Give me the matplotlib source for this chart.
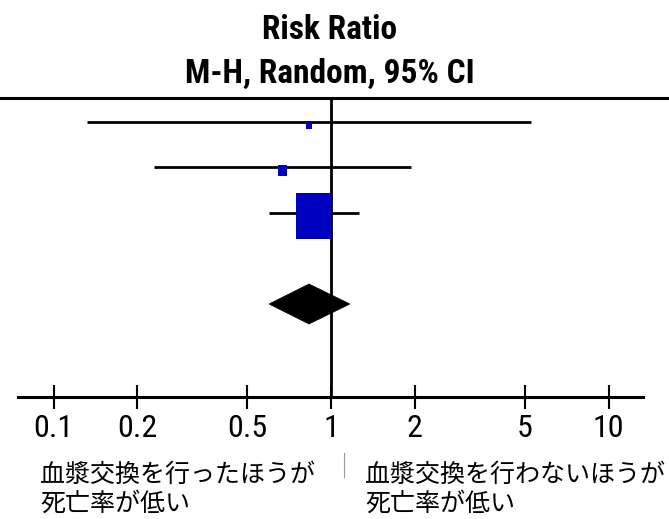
import numpy as np
import matplotlib
matplotlib.use("Agg")
import matplotlib.pyplot as plt
from matplotlib import font_manager
from matplotlib.patches import Rectangle, Polygon
from matplotlib.lines import Line2D

# ---- data ----
study_rr = [0.83, 0.67, 0.865]
study_lo = [0.132, 0.230, 0.598]
study_hi = [5.26, 1.94, 1.26]
study_weight = [2.7, 6.0, 91.3]
pooled_rr = 0.833
pooled_lo = 0.598
pooled_hi = 1.17
tick_values = [0.1, 0.2, 0.5, 1, 2, 5, 10]
tick_labels = ["0.1", "0.2", "0.5", "1", "2", "5", "10"]
title_lines = ["Risk Ratio", "M-H, Random, 95% CI"]
left_label = "血漿交換を行ったほうが\n死亡率が低い"
right_label = "血漿交換を行わないほうが\n死亡率が低い"

# pick a narrow latin font if one exists
fl = font_manager.fontManager.ttflist
names = {f.name for f in fl}
narrow_family, narrow_stretch = "Liberation Sans", "normal"
if "Liberation Sans Narrow" in names:
    narrow_family = "Liberation Sans Narrow"
elif "Roboto Condensed" in names:
    narrow_family = "Roboto Condensed"
elif any(f.name == "DejaVu Sans" and str(f.stretch) in ("condensed", "semi-condensed")
         for f in fl):
    narrow_family, narrow_stretch = "DejaVu Sans", "condensed"
elif "Liberation Sans" not in names:
    narrow_family = "DejaVu Sans"
cjk = ["Noto Sans CJK JP", "DejaVu Sans"]

W, H = 669, 519
fig = plt.figure(figsize=(W / 100, H / 100), dpi=100)

# pixel geometry
ax_left_px, ax_right_px = 18, 643
ax_top_px, ax_bot_px = 98, 397
ax = fig.add_axes([ax_left_px / W, 1 - ax_bot_px / H,
                   (ax_right_px - ax_left_px) / W, (ax_bot_px - ax_top_px) / H])

px_per_decade = 277.5
one_px = 331
xmin = 10 ** ((ax_left_px - one_px) / px_per_decade)
xmax = 10 ** ((ax_right_px - one_px) / px_per_decade)
ax.set_xscale("log")
ax.set_xlim(xmin, xmax)

row0_px, row_step = 76.5, 45.5
ylo = (ax_bot_px - row0_px) / row_step
yhi = (ax_top_px - row0_px) / row_step
ax.set_ylim(ylo, yhi)

rows = [1, 2, 3]
pooled_row = 5
blue = "#0000C0"

for r, rr, lo, hi, w in zip(rows, study_rr, study_lo, study_hi, study_weight):
    ax.plot([lo, hi], [r, r], color="black", lw=2.0, solid_capstyle="butt", zorder=2)
    side_px = 3.66 * np.sqrt(w)
    half_dec = side_px / 2 / px_per_decade
    hgt = side_px * 1.31 / row_step
    cy = r + 3 / row_step
    x0 = 10 ** (np.log10(rr) - half_dec)
    x1 = 10 ** (np.log10(rr) + half_dec)
    ax.add_patch(Rectangle((x0, cy - hgt / 2), x1 - x0, hgt, facecolor=blue,
                           edgecolor="none", zorder=3))

dh = 20 / row_step
ax.add_patch(Polygon([[pooled_lo, pooled_row], [pooled_rr, pooled_row - dh],
                      [pooled_hi, pooled_row], [pooled_rr, pooled_row + dh]],
                     closed=True, facecolor="black", edgecolor="black", lw=0.5, zorder=3))

ax.axvline(1, color="black", lw=2.0, zorder=1)

for s in ["top", "left", "right"]:
    ax.spines[s].set_visible(False)
ax.spines["bottom"].set_linewidth(2.2)
ax.set_yticks([])
ax.set_xticks(tick_values)
ax.set_xticklabels(tick_labels)
ax.xaxis.set_minor_locator(matplotlib.ticker.NullLocator())
ax.tick_params(axis="x", direction="inout", length=17, width=1.5, pad=4,
               labelsize=23)
for lab in ax.get_xticklabels():
    lab.set_fontfamily(narrow_family)
    lab.set_fontstretch(narrow_stretch)
ax.patch.set_alpha(0)

# top separator across the full width
fig.add_artist(Line2D([0, 1], [1 - 98 / H, 1 - 98 / H], color="black", lw=2.2,
                      transform=fig.transFigure))

# titles
fig.text(330 / W, 1 - 30 / H, title_lines[0], ha="center", va="center",
         fontsize=24, fontweight="bold", family=narrow_family, fontstretch=narrow_stretch)
fig.text(330 / W, 1 - 74 / H, title_lines[1], ha="center", va="center",
         fontsize=24, fontweight="bold", family=narrow_family, fontstretch=narrow_stretch)

# bottom annotations
fig.text(40 / W, 1 - 462 / H, left_label, ha="left", va="top", fontsize=18,
         family=cjk, linespacing=1.15)
fig.text(365 / W, 1 - 462 / H, right_label, ha="left", va="top", fontsize=18,
         family=cjk, linespacing=1.15)
fig.add_artist(Line2D([344 / W, 344 / W], [1 - 453 / H, 1 - 477 / H],
                      color="#999999", lw=0.8, transform=fig.transFigure))

fig.savefig("out.png", dpi=100)
